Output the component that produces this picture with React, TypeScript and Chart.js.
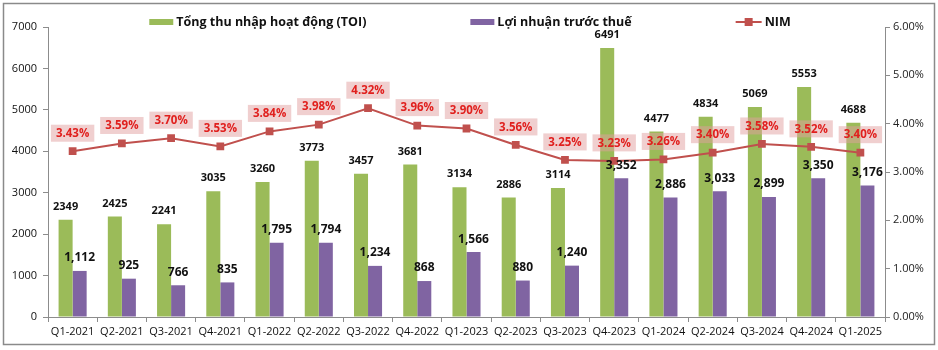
import { useEffect, useRef } from 'react';
import { Chart, registerables } from 'chart.js';

Chart.register(...registerables);

const categories = [
  'Q1-2021', 'Q2-2021', 'Q3-2021', 'Q4-2021',
  'Q1-2022', 'Q2-2022', 'Q3-2022', 'Q4-2022',
  'Q1-2023', 'Q2-2023', 'Q3-2023', 'Q4-2023',
  'Q1-2024', 'Q2-2024', 'Q3-2024', 'Q4-2024',
  'Q1-2025',
];
const toiValues = [2349, 2425, 2241, 3035, 3260, 3773, 3457, 3681, 3134, 2886, 3114, 6491, 4477, 4834, 5069, 5553, 4688];
const profitValues = [1112, 925, 766, 835, 1795, 1794, 1234, 868, 1566, 880, 1240, 3352, 2886, 3033, 2899, 3350, 3176];
const nimValues = [3.43, 3.59, 3.70, 3.53, 3.84, 3.98, 4.32, 3.96, 3.90, 3.56, 3.25, 3.23, 3.26, 3.40, 3.58, 3.52, 3.40];
const leftAxisMax = 7000;
const leftAxisStep = 1000;
const rightAxisMax = 6;
const rightAxisStep = 1;
const legendLabels = ['Tổng thu nhập hoạt động (TOI)', 'Lợi nhuận trước thuế', 'NIM'];

const GREEN = '#9BBB59';
const PURPLE = '#8064A2';
const RED = '#C0504D';
const AXIS = '#8C8C8C';
const FONT = "'Open Sans', 'Liberation Sans', sans-serif";

const fmtComma = (v: number) => v.toLocaleString('en-US');

const framePlugin = {
  id: 'frame',
  beforeDraw(chart: any) {
    const ctx = chart.ctx;
    ctx.save();
    ctx.fillStyle = '#FFFFFF';
    ctx.fillRect(0, 0, chart.width, chart.height);
    ctx.strokeStyle = '#8A8A8A';
    ctx.lineWidth = 1.5;
    ctx.strokeRect(3.5, 3.5, chart.width - 7, chart.height - 9);
    ctx.restore();
  },
};

const labelsPlugin = {
  id: 'valueLabels',
  afterDatasetsDraw(chart: any) {
    const ctx = chart.ctx;
    ctx.save();
    ctx.textAlign = 'center';
    ctx.textBaseline = 'middle';
    const toiMeta = chart.getDatasetMeta(0);
    const profMeta = chart.getDatasetMeta(1);
    ctx.fillStyle = '#111111';
    ctx.font = `bold 11px ${FONT}`;
    toiMeta.data.forEach((el: any, i: number) => {
      ctx.fillText(String(toiValues[i]), el.x, el.y - 13);
    });
    ctx.font = `bold 12px ${FONT}`;
    profMeta.data.forEach((el: any, i: number) => {
      ctx.fillText(fmtComma(profitValues[i]), el.x, el.y - 13);
    });
    const nimMeta = chart.getDatasetMeta(2);
    ctx.font = `bold 11.5px ${FONT}`;
    nimMeta.data.forEach((el: any, i: number) => {
      const txt = nimValues[i].toFixed(2) + '%';
      const w = ctx.measureText(txt).width + 10;
      const h = 17;
      const cx = el.x;
      const cy = el.y - 18;
      ctx.fillStyle = 'rgba(226, 160, 160, 0.5)';
      ctx.fillRect(cx - w / 2, cy - h / 2, w, h);
      ctx.fillStyle = '#E0201E';
      ctx.fillText(txt, cx, cy + 0.5);
    });
    ctx.restore();
  },
};

const legendPlugin = {
  id: 'customLegend',
  afterDraw(chart: any) {
    const ctx = chart.ctx;
    ctx.save();
    ctx.font = `bold 12.5px ${FONT}`;
    ctx.textBaseline = 'middle';
    ctx.textAlign = 'left';
    const boxW = 24;
    const gapBoxText = 3;
    const gap = 104;
    const widths = legendLabels.map((t, i) => (i < 2 ? boxW : 26) + gapBoxText + ctx.measureText(t).width);
    const total = widths.reduce((a, b) => a + b, 0) + gap * 2;
    let x = chart.width / 2 - total / 2 + 1;
    const y = 22;
    legendLabels.forEach((t, i) => {
      if (i === 0 || i === 1) {
        ctx.fillStyle = i === 0 ? GREEN : PURPLE;
        ctx.fillRect(x, y - 3, boxW, 6);
        ctx.fillStyle = '#111111';
        ctx.fillText(t, x + boxW + gapBoxText, y + 0.5);
      } else {
        ctx.strokeStyle = RED;
        ctx.lineWidth = 2;
        ctx.beginPath();
        ctx.moveTo(x, y);
        ctx.lineTo(x + 26, y);
        ctx.stroke();
        ctx.fillStyle = RED;
        ctx.fillRect(x + 13 - 4, y - 4, 8, 8);
        ctx.fillStyle = '#111111';
        ctx.fillText(t, x + 26 + gapBoxText, y + 0.5);
      }
      x += widths[i] + gap;
    });
    ctx.restore();
  },
};

export default function App() {
  const canvasRef = useRef<HTMLCanvasElement | null>(null);

  useEffect(() => {
    document.body.style.margin = '0';
    if (!canvasRef.current) return;
    const chart = new Chart(canvasRef.current, {
      type: 'bar',
      data: {
        labels: categories,
        datasets: [
          {
            type: 'bar',
            label: legendLabels[0],
            data: toiValues,
            backgroundColor: GREEN,
            yAxisID: 'y',
            categoryPercentage: 0.57,
            barPercentage: 1.0,
            order: 1,
          },
          {
            type: 'bar',
            label: legendLabels[1],
            data: profitValues,
            backgroundColor: PURPLE,
            yAxisID: 'y',
            categoryPercentage: 0.57,
            barPercentage: 1.0,
            order: 1,
          },
          {
            type: 'line',
            label: legendLabels[2],
            data: nimValues,
            borderColor: RED,
            backgroundColor: RED,
            borderWidth: 2,
            pointStyle: 'rect',
            pointRadius: 5.5,
            pointBackgroundColor: RED,
            pointBorderColor: RED,
            pointBorderWidth: 0,
            yAxisID: 'y1',
            tension: 0,
            order: 0,
          } as any,
        ],
      },
      options: {
        responsive: false,
        animation: false,
        layout: { padding: { top: 27, left: 0, right: 0, bottom: 0 } },
        plugins: {
          legend: { display: false },
          tooltip: { enabled: false },
        },
        scales: {
          x: {
            offset: true,
            grid: {
              display: true,
              drawOnChartArea: false,
              drawTicks: true,
              tickLength: 5,
              color: AXIS,
              offset: true,
            },
            border: { display: true, color: AXIS, width: 1 },
            ticks: {
              color: '#111111',
              font: { family: FONT, size: 11 },
              maxRotation: 0,
              autoSkip: false,
              padding: 3,
            },
            afterFit: (s: any) => { s.height = 33; },
          },
          y: {
            position: 'left',
            min: 0,
            max: leftAxisMax,
            grid: {
              display: true,
              drawOnChartArea: false,
              drawTicks: true,
              tickLength: 5,
              color: AXIS,
            },
            border: { display: true, color: AXIS, width: 1 },
            ticks: {
              stepSize: leftAxisStep,
              color: '#111111',
              font: { family: FONT, size: 11 },
              padding: 6,
              callback: (v: any) => String(v),
            },
            afterFit: (s: any) => { s.width = 48; },
          },
          y1: {
            position: 'right',
            min: 0,
            max: rightAxisMax,
            grid: {
              display: true,
              drawOnChartArea: false,
              drawTicks: true,
              tickLength: 5,
              color: AXIS,
            },
            border: { display: true, color: AXIS, width: 1 },
            ticks: {
              stepSize: rightAxisStep,
              color: '#222222',
              font: { family: FONT, size: 11 },
              padding: 3,
              callback: (v: any) => Number(v).toFixed(2) + '%',
            },
            afterFit: (s: any) => { s.width = 53; },
          },
        },
      },
      plugins: [framePlugin, labelsPlugin, legendPlugin],
    });
    return () => chart.destroy();
  }, []);

  return (
    <div style={{ width: 938, height: 350 }}>
      <canvas ref={canvasRef} width={938} height={350} style={{ display: 'block' }} />
    </div>
  );
}
